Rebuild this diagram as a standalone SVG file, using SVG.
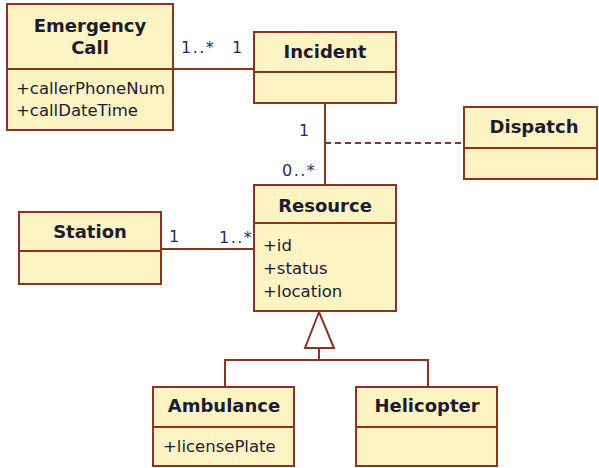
<svg xmlns="http://www.w3.org/2000/svg" width="599" height="468" viewBox="0 0 599 468">
  <style>
    .box { fill: #fdf3c3; stroke: #8c3324; stroke-width: 2; }
    .sep { stroke: #8c3324; stroke-width: 2; }
    .line { stroke: #8c3324; stroke-width: 2; fill: none; }
    .dash { stroke: #8c3324; stroke-width: 2; fill: none; stroke-dasharray: 6 4; }
    .title { font-family: "DejaVu Sans", Verdana, sans-serif; font-weight: bold; font-size: 18px; fill: #1b1d30; text-anchor: middle; }
    .attr { font-family: "DejaVu Sans", Verdana, sans-serif; font-size: 16.5px; fill: #1b1d30; }
    .mult { font-family: "DejaVu Sans", Verdana, sans-serif; font-size: 16px; fill: #2a2c5a; letter-spacing: 1.5px; }
  </style>

  <g id="connectors">
    <line class="line" x1="173" y1="69" x2="254" y2="69"/>
    <line class="line" x1="325" y1="103" x2="325" y2="185"/>
    <line class="dash" x1="325" y1="143" x2="464" y2="143"/>
    <line class="line" x1="161" y1="249" x2="254" y2="249"/>
    <polygon points="319,312 305,348 334,348" fill="#ffffff" stroke="#8c3324" stroke-width="2"/>
    <polyline class="line" points="319,348 319,360"/>
    <polyline class="line" points="225,387 225,360 428,360 428,387"/>
    <text class="mult" x="181" y="53">1..*</text>
    <text class="mult" x="232" y="53">1</text>
    <text class="mult" x="299" y="136">1</text>
    <text class="mult" x="282" y="176">0..*</text>
    <text class="mult" x="169" y="242">1</text>
    <text class="mult" x="219" y="243">1..*</text>
  </g>

  <g id="emergency-call">
    <rect class="box" x="7" y="4" width="166" height="126"/>
    <line class="sep" x1="7" y1="69" x2="173" y2="69"/>
    <text class="title" x="90" y="32">Emergency</text>
    <text class="title" x="90" y="54">Call</text>
    <text class="attr" x="16" y="94">+callerPhoneNum</text>
    <text class="attr" x="16" y="116">+callDateTime</text>
  </g>

  <g id="incident">
    <rect class="box" x="254" y="32" width="142" height="71"/>
    <line class="sep" x1="254" y1="72" x2="396" y2="72"/>
    <text class="title" x="325" y="58">Incident</text>
  </g>

  <g id="dispatch">
    <rect class="box" x="464" y="107" width="133" height="72"/>
    <line class="sep" x1="464" y1="148" x2="597" y2="148"/>
    <text class="title" x="534" y="133">Dispatch</text>
  </g>

  <g id="station">
    <rect class="box" x="19" y="212" width="142" height="72"/>
    <line class="sep" x1="19" y1="251" x2="161" y2="251"/>
    <text class="title" x="90" y="238">Station</text>
  </g>

  <g id="resource">
    <rect class="box" x="254" y="185" width="142" height="126"/>
    <line class="sep" x1="254" y1="223" x2="396" y2="223"/>
    <text class="title" x="325" y="212">Resource</text>
    <text class="attr" x="263" y="251">+id</text>
    <text class="attr" x="263" y="274">+status</text>
    <text class="attr" x="263" y="297">+location</text>
  </g>

  <g id="ambulance">
    <rect class="box" x="153" y="387" width="141" height="79"/>
    <line class="sep" x1="153" y1="427" x2="294" y2="427"/>
    <text class="title" x="224" y="412">Ambulance</text>
    <text class="attr" x="163" y="452">+licensePlate</text>
  </g>

  <g id="helicopter">
    <rect class="box" x="356" y="387" width="141" height="79"/>
    <line class="sep" x1="356" y1="427" x2="497" y2="427"/>
    <text class="title" x="427" y="412">Helicopter</text>
  </g>
</svg>
